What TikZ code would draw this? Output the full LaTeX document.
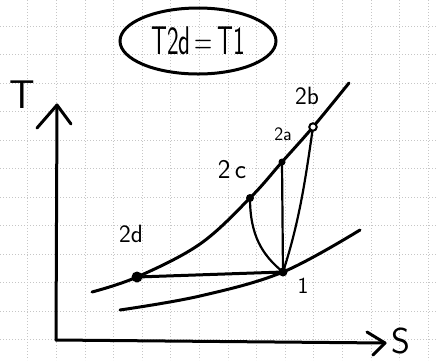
\documentclass[tikz,border=0pt]{standalone}
\usetikzlibrary{shapes.geometric}
\begin{document}
\begin{tikzpicture}[x=1pt,y=-1pt,
  gridline/.style={gray!45, dash pattern=on 1.2pt off 1.8pt, line width=0.6pt},
  pen/.style={line width=3pt, line cap=round, line join=round},
  thinpen/.style={line width=2.2pt, line cap=round},
  dot/.style={circle, fill=black, inner sep=0pt, minimum size=#1},
  lbl/.style={font=\sffamily\fontsize{#1}{#1}\selectfont, inner sep=0pt}
]
\useasboundingbox (0,0) rectangle (437,360);
\fill[white] (0,0) rectangle (437,360);
% grid paper
\foreach \k in {1,...,15} \draw[gridline] ({28.6*\k-1},0) -- ({28.6*\k-1},360);
\foreach \k in {0,...,11} \draw[gridline] (0,{26.2+28.5*\k}) -- (437,{26.2+28.5*\k});

% title
\node[draw, line width=3pt, ellipse, minimum width=156pt, minimum height=66pt, inner sep=0pt] (eq) at (198,41)
  {\sffamily\fontsize{40}{40}\selectfont\scalebox{0.62}[1]{T2d\,=\,T1}};

% axes
\coordinate (O) at (56,340);
\coordinate (Ttip) at (57,105);
\coordinate (Stip) at (385,343);
\draw[pen] (O) -- (Ttip);
\draw[pen] (37,128) -- (Ttip) -- (71,124);
\draw[pen] (O) -- (Stip);
\draw[pen] (367,332) -- (Stip) -- (373,355);
\node[lbl=40] (Tlab) at (22,95) {T};
\node[lbl=36] (Slab) at (401,341) {S};

% state points
\coordinate (p1) at (283,272);
\coordinate (p2d) at (137,277);
\coordinate (p2c) at (250,198);
\coordinate (p2a) at (282,162);
\coordinate (p2b) at (313,127);

% upper isobar
\draw[pen] plot[smooth, tension=0.6] coordinates {(92,292) (p2d) (200,244) (p2c) (p2a) (p2b) (349,83)};
% lower isobar
\draw[pen] plot[smooth, tension=0.6] coordinates {(120,310) (200,296) (p1) (360,230)};

% processes
\draw[pen] (p2d) -- (p1);
\draw[thinpen] (p1) -- (p2a);
\draw[thinpen] (p1) .. controls (300,220) and (306,175) .. (p2b);
\draw[thinpen] (p2c) .. controls (250,235) and (262,255) .. (p1);

% dots
\node[dot=11pt] (d2d) at (p2d) {};
\node[dot=9pt] (d1) at (p1) {};
\node[dot=8pt] (d2c) at (p2c) {};
\node[dot=7pt] (d2a) at (p2a) {};
\node[circle, draw, line width=2pt, fill=white, inner sep=0pt, minimum size=7.5pt] (d2b) at (p2b) {};

% labels
\node[lbl=25] (l2d) at (131,234) {2d};
\node[lbl=27] (l2c) at (232,170) {2\,c};
\node[lbl=19] (l2a) at (283,134) {2a};
\node[lbl=25] (l2b) at (307,96) {2b};
\node[lbl=23] (l1) at (303,286) {1};
\end{tikzpicture}
\end{document}
